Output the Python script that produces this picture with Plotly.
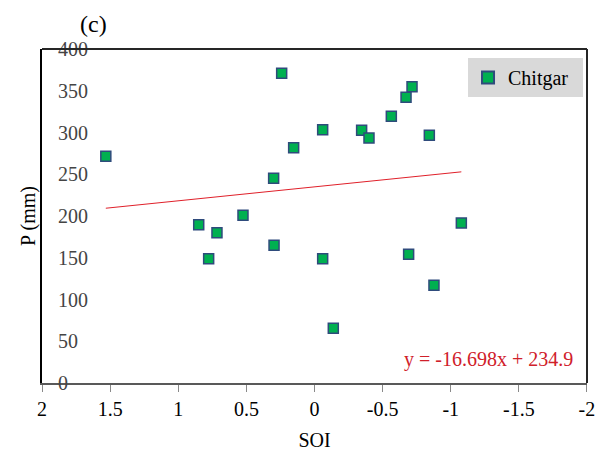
import plotly.graph_objects as go

soi = [1.532, 0.241, 0.153, 0.300, 0.850, 0.716, 0.525, 0.777, 0.297,
       -0.060, -0.346, -0.400, -0.564, -0.672, -0.716, -0.843, -1.078,
       -0.060, -0.691, -0.877, -0.138]
precip = [271.5, 370.9, 281.8, 245.1, 189.6, 180.0, 200.8, 148.9, 164.9,
          303.4, 302.6, 293.4, 319.4, 342.2, 354.9, 296.6, 191.6,
          148.9, 154.1, 117.0, 65.5]
slope = -16.698
intercept = 234.9
series_name = "Chitgar"
x_ticks = [2, 1.5, 1, 0.5, 0, -0.5, -1, -1.5, -2]
x_tick_text = ["2", "1.5", "1", "0.5", "0", "-0.5", "-1", "-1.5", "-2"]
y_ticks = [0, 50, 100, 150, 200, 250, 300, 350, 400]

FONT = "Liberation Serif"

x_lo, x_hi = min(soi), max(soi)
trend_x = [x_hi, x_lo]
trend_y = [slope * v + intercept for v in trend_x]

fig = go.Figure()
fig.add_trace(go.Scatter(
    x=trend_x, y=trend_y, mode="lines",
    line=dict(color="#e0202a", width=1), showlegend=False, hoverinfo="skip"))
fig.add_trace(go.Scatter(
    x=soi, y=precip, mode="markers", name=series_name + "\u00a0\u00a0",
    marker=dict(symbol="square", size=10, color="#00b050",
                line=dict(color="#2f4b7c", width=1.5))))

fig.update_layout(
    width=597, height=447,
    margin=dict(l=34, r=18, t=41, b=72),
    paper_bgcolor="white", plot_bgcolor="white",
    font=dict(family=FONT, size=20, color="black"),
    showlegend=True,
    legend=dict(x=0.9927, y=0.973, xanchor="right", yanchor="top",
                bgcolor="#d9d9d9", borderwidth=0,
                font=dict(family=FONT, size=20, color="black"),
                itemsizing="constant"),
    xaxis=dict(range=[2.0005, -2.0005], tickvals=x_ticks, ticktext=x_tick_text,
               automargin=False, ticklabeloverflow="allow",
               showgrid=False, zeroline=False, showline=True,
               linecolor="#595959", linewidth=2, ticks="outside",
               ticklen=7, tickcolor="#898989", tickwidth=1,
               tickfont=dict(family=FONT, size=20),
               title=dict(text="SOI", font=dict(family=FONT, size=20), standoff=14)),
    yaxis=dict(range=[0, 400], tickvals=y_ticks,
               automargin=False, ticklabeloverflow="allow",
               showgrid=False, zeroline=False, showline=True,
               linecolor="black", linewidth=2, ticks="",
               ticklabelposition="inside", ticklabelstandoff=17,
               tickfont=dict(family=FONT, size=20),
               title=dict(text="P (mm)", font=dict(family=FONT, size=20), standoff=17)),
)

# frame top and right
fig.add_shape(type="line", xref="paper", yref="paper", x0=0, x1=1, y0=1, y1=1,
              line=dict(color="#262626", width=2))
fig.add_shape(type="line", xref="paper", yref="paper", x0=1, x1=1, y0=0, y1=1,
              line=dict(color="#262626", width=2))

fig.add_annotation(text="(c)", xref="paper", yref="paper", x=0.066, y=1.075,
                   xanchor="left", yanchor="middle", showarrow=False,
                   font=dict(family=FONT, size=24, color="black"))
fig.add_annotation(text=f"y = {slope}x + {intercept}", xref="paper", yref="paper",
                   x=0.978, y=0.069, xanchor="right", yanchor="middle", showarrow=False,
                   font=dict(family=FONT, size=20, color="#d0202a"))

fig.write_html("out.html")
